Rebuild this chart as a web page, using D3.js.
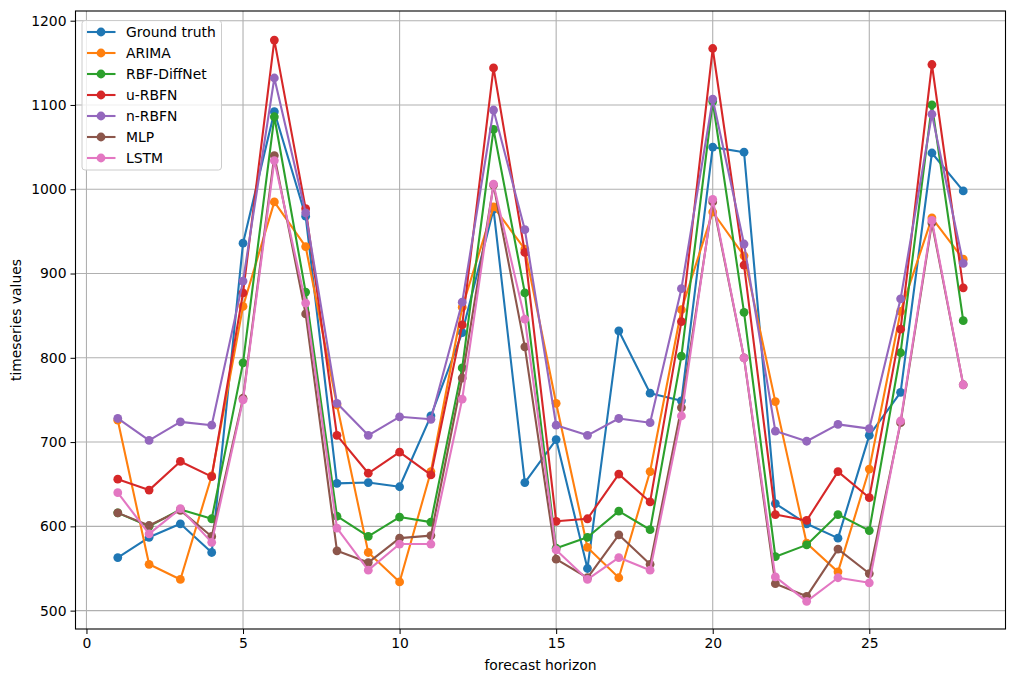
<!DOCTYPE html>
<html lang="en">
<head>
    <meta charset="UTF-8">
    <script src="https://d3js.org/d3.v7.min.js"></script>
    <title>forecast horizon</title>
    <style>
        body { margin: 0; background: #fff; }
        svg text { font-family: "DejaVu Sans", sans-serif; }
    </style>
</head>
<body>
    <div id="app"></div>
    <script>
        const horizon = d3.range(1, 29);
        const seriesNames = ['Ground truth', 'ARIMA', 'RBF-DiffNet', 'u-RBFN', 'n-RBFN', 'MLP', 'LSTM'];
        const colors = ['#1f77b4', '#ff7f0e', '#2ca02c', '#d62728', '#9467bd', '#8c564b', '#e377c2'];

        const groundTruth = [563, 587, 603, 569, 936, 1092, 968, 651, 652, 647, 731, 830, 976, 652,
            703, 550, 832, 758, 749, 1050, 1044, 627, 603, 586, 708, 759, 1043, 998];
        const arima = [726, 555, 537, 660, 861, 985, 932, 744, 569, 534, 665, 860, 979, 929,
            746, 575, 539, 665, 857, 973, 921, 748, 580, 546, 668, 855, 966, 917];
        const rbfDiffNet = [616, 600, 620, 609, 794, 1086, 878, 612, 588, 611, 605, 788, 1071, 877,
            574, 587, 618, 596, 802, 1104, 854, 564, 578, 614, 595, 806, 1100, 844];
        const uRbfn = [656, 643, 677, 659, 877, 1177, 977, 708, 663, 688, 661, 839, 1144, 925,
            606, 609, 662, 629, 843, 1167, 910, 614, 607, 665, 634, 834, 1148, 883];
        const nRbfn = [728, 702, 724, 720, 891, 1132, 972, 746, 708, 730, 727, 866, 1094, 952,
            720, 708, 728, 723, 882, 1107, 935, 713, 701, 721, 716, 870, 1089, 912];
        const mlp = [616, 601, 619, 588, 752, 1040, 852, 571, 557, 586, 589, 776, 1005, 813,
            561, 539, 590, 555, 741, 985, 800, 532, 517, 573, 544, 723, 960, 768];
        const lstm = [640, 591, 621, 581, 750, 1034, 865, 598, 548, 579, 579, 751, 1006, 846,
            572, 537, 563, 548, 731, 988, 800, 540, 511, 539, 533, 725, 963, 768];

        const allSeries = [groundTruth, arima, rbfDiffNet, uRbfn, nRbfn, mlp, lstm];

        const xTicks = [0, 5, 10, 15, 20, 25];
        const yTicks = [500, 600, 700, 800, 900, 1000, 1100, 1200];

        const svg_width = 1018;
        const svg_height = 682;
        const plot_left = 75.5, plot_right = 1005.5, plot_top = 11, plot_bottom = 629;
        const font_size = 13.9;

        const svg = d3.select('#app')
            .append('svg')
            .attr('width', svg_width)
            .attr('height', svg_height);

        const x_scale = d3.scaleLinear().domain([-0.35, 29.35]).range([plot_left, plot_right]);
        const y_scale = d3.scaleLinear().domain([478.2, 1211.5]).range([plot_bottom, plot_top]);

        // grid
        svg.append('g')
            .selectAll('line')
            .data(xTicks)
            .enter()
            .append('line')
            .attr('x1', d => x_scale(d)).attr('x2', d => x_scale(d))
            .attr('y1', plot_top).attr('y2', plot_bottom)
            .attr('stroke', '#b0b0b0').attr('stroke-width', 1.1);
        svg.append('g')
            .selectAll('line')
            .data(yTicks)
            .enter()
            .append('line')
            .attr('y1', d => y_scale(d)).attr('y2', d => y_scale(d))
            .attr('x1', plot_left).attr('x2', plot_right)
            .attr('stroke', '#b0b0b0').attr('stroke-width', 1.1);

        // axes
        const x_axis = d3.axisBottom(x_scale).tickValues(xTicks).tickSize(5).tickPadding(4).tickFormat(d3.format('d'));
        const y_axis = d3.axisLeft(y_scale).tickValues(yTicks).tickSize(5).tickPadding(4).tickFormat(d3.format('d'));
        const gx = svg.append('g').attr('transform', 'translate(0,' + plot_bottom + ')').call(x_axis);
        const gy = svg.append('g').attr('transform', 'translate(' + plot_left + ',0)').call(y_axis);
        [gx, gy].forEach(g => {
            g.select('.domain').remove();
            g.selectAll('text').attr('font-size', font_size).attr('fill', '#000')
                .style('font-family', '"DejaVu Sans", sans-serif');
            g.selectAll('line').attr('stroke', '#000').attr('stroke-width', 1);
        });

        // series, each line then its markers, in legend order
        const line = d3.line()
            .x((d, i) => x_scale(horizon[i]))
            .y(d => y_scale(d));

        allSeries.forEach((vals, k) => {
            const g = svg.append('g');
            g.append('path')
                .attr('d', line(vals))
                .attr('fill', 'none')
                .attr('stroke', colors[k])
                .attr('stroke-width', 2.1)
                .attr('stroke-linejoin', 'round');
            g.selectAll('circle')
                .data(vals)
                .enter()
                .append('circle')
                .attr('cx', (d, i) => x_scale(horizon[i]))
                .attr('cy', d => y_scale(d))
                .attr('r', 4.4)
                .attr('fill', colors[k]);
        });

        // frame
        svg.append('rect')
            .attr('x', plot_left).attr('y', plot_top)
            .attr('width', plot_right - plot_left).attr('height', plot_bottom - plot_top)
            .attr('fill', 'none').attr('stroke', '#000').attr('stroke-width', 1.1);

        // labels
        svg.append('text')
            .attr('x', (plot_left + plot_right) / 2).attr('y', 670)
            .attr('text-anchor', 'middle').attr('font-size', font_size)
            .text('forecast horizon');
        svg.append('text')
            .attr('transform', 'translate(21,' + ((plot_top + plot_bottom) / 2) + ') rotate(-90)')
            .attr('text-anchor', 'middle').attr('font-size', font_size)
            .text('timeseries values');

        // legend
        const legend = svg.append('g');
        legend.append('rect')
            .attr('x', 82).attr('y', 20.5)
            .attr('width', 139.5).attr('height', 149.5)
            .attr('rx', 3)
            .attr('fill', '#fff').attr('fill-opacity', 0.8)
            .attr('stroke', '#cccccc').attr('stroke-width', 1);
        seriesNames.forEach((name, k) => {
            const yy = 32 + k * 21;
            legend.append('line')
                .attr('x1', 87).attr('x2', 115.5)
                .attr('y1', yy).attr('y2', yy)
                .attr('stroke', colors[k]).attr('stroke-width', 2.1);
            legend.append('circle')
                .attr('cx', 101).attr('cy', yy).attr('r', 4.4)
                .attr('fill', colors[k]);
            legend.append('text')
                .attr('x', 126).attr('y', yy + 5)
                .attr('font-size', font_size)
                .text(name);
        });
    </script>
</body>
</html>
